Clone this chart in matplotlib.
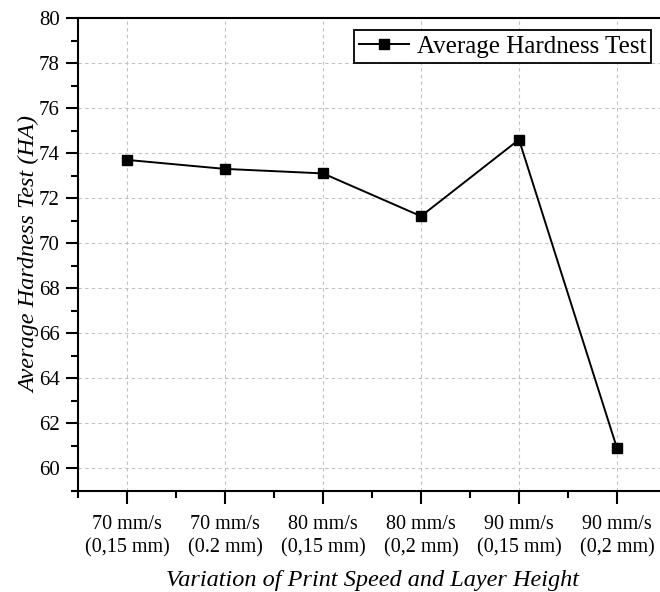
import matplotlib
matplotlib.use("Agg")
import matplotlib.pyplot as plt
from matplotlib.ticker import MultipleLocator, FixedLocator

plt.rcParams['font.family'] = ['Liberation Serif', 'DejaVu Serif']

categories = ["70 mm/s\n(0,15 mm)", "70 mm/s\n(0.2 mm)", "80 mm/s\n(0,15 mm)",
              "80 mm/s\n(0,2 mm)", "90 mm/s\n(0,15 mm)", "90 mm/s\n(0,2 mm)"]
hardness = [73.7, 73.3, 73.1, 71.2, 74.6, 60.9]

fig = plt.figure(figsize=(6.6, 5.92), dpi=100)
ax = fig.add_axes([78/660, 1-491/592, 588/660, (491-18)/592])

x = list(range(len(categories)))
ax.plot(x, hardness, color='black', lw=1.4, marker='s', markersize=7.5,
        label='Average Hardness Test', zorder=3)

ax.set_xlim(-0.5, 5.5)
ax.set_ylim(59, 80)
ax.set_xticks(x)
ax.set_xticklabels(categories, fontsize=14.5, linespacing=1.35)
ax.xaxis.set_minor_locator(FixedLocator([i + 0.5 for i in range(-1, 6)]))
ax.yaxis.set_major_locator(MultipleLocator(2))
ax.yaxis.set_minor_locator(MultipleLocator(1))
ax.tick_params(axis='both', which='major', direction='out', length=9, width=1.5, labelsize=15)
ax.tick_params(axis='both', which='minor', direction='out', length=5, width=1.5)
ax.tick_params(axis='x', which='major', pad=8, labelsize=14.5)
ax.tick_params(axis='y', which='major', pad=4)

for s in ['left', 'bottom', 'top', 'right']:
    ax.spines[s].set_linewidth(1.5)

ax.grid(True, which='major', linestyle=(0, (3, 3)), color='#c0c0c0', lw=0.8)
ax.set_axisbelow(True)

ax.set_ylabel('Average Hardness Test (HA)', fontsize=17.5, style='italic', labelpad=-1)
ax.set_xlabel('Variation of Print Speed and Layer Height', fontsize=17.5, style='italic', labelpad=9)

leg = ax.legend(loc='upper right', bbox_to_anchor=(1 - 15/588, 1 - 12/473), fontsize=18,
                frameon=True, fancybox=False, edgecolor='black', framealpha=1,
                handlelength=2.0, borderpad=0.2, handletextpad=0.3, borderaxespad=0)
leg.get_frame().set_linewidth(1.3)

fig.savefig('out.png', dpi=100)
